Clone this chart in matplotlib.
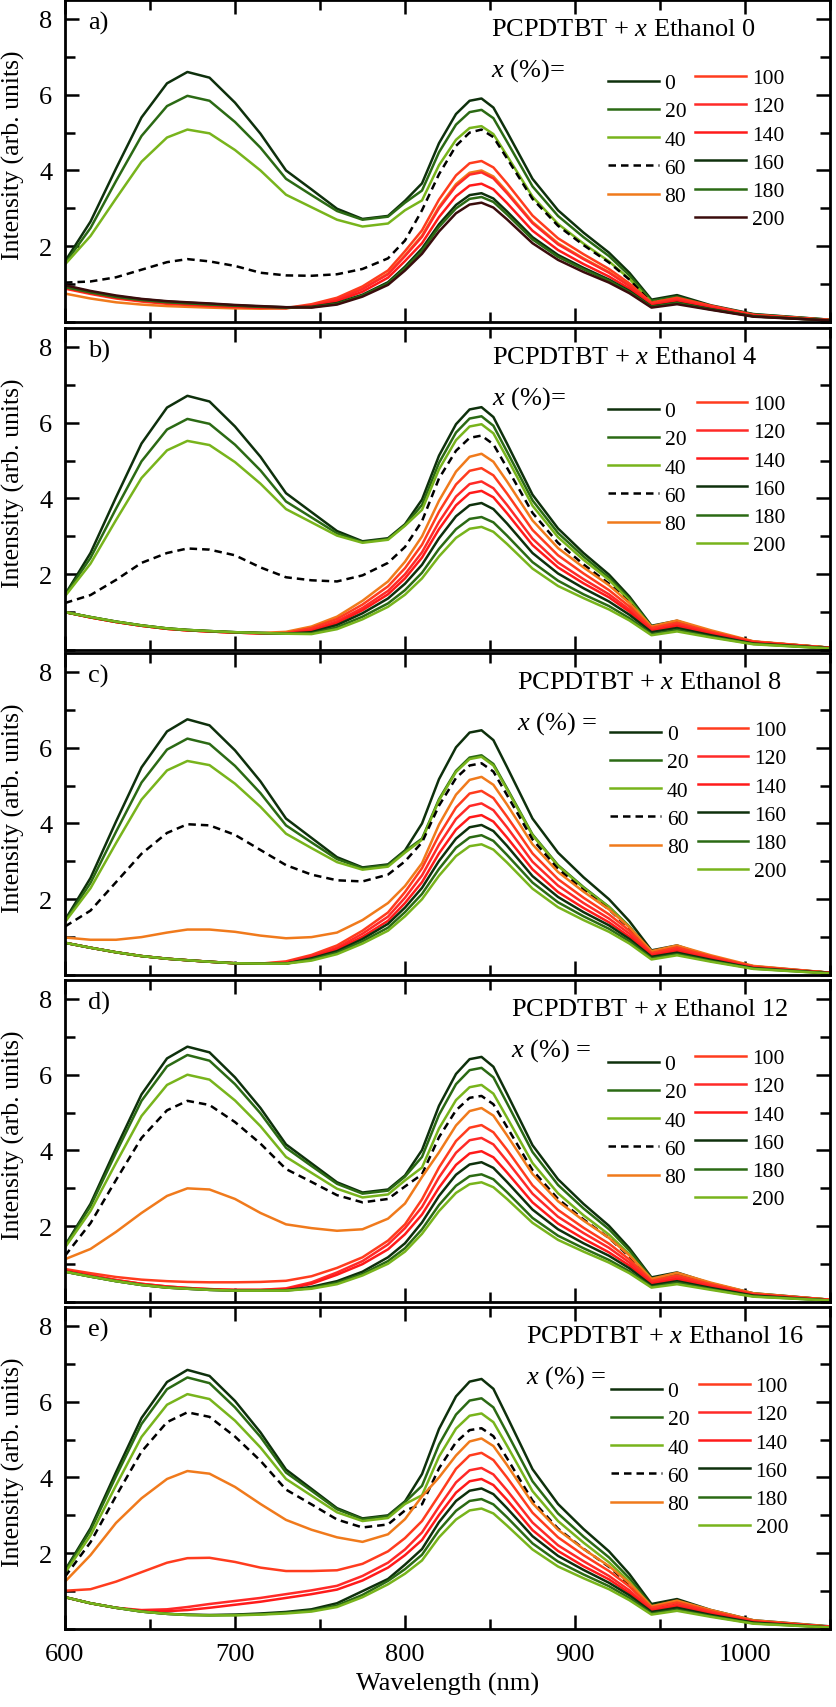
import matplotlib.pyplot as plt
from matplotlib.ticker import MultipleLocator

plt.rcParams['font.family'] = ['Liberation Serif', 'DejaVu Serif']
plt.rcParams['mathtext.fontset'] = 'custom'
plt.rcParams['mathtext.rm'] = 'Liberation Serif'
plt.rcParams['mathtext.it'] = 'Liberation Serif:italic'

wavelength = [600, 615, 630, 645, 660, 672, 685, 700, 715, 730, 745, 760, 775, 790, 800,
              810, 820, 830, 838, 845, 852, 860, 875, 890, 905, 920, 932, 945, 960, 980, 1005, 1050]
ethanol_pct = ['0', '20', '40', '60', '80', '100', '120', '140', '160', '180', '200']
panel_tags = ['a)', 'b)', 'c)', 'd)', 'e)']
ethanol_amount = ['0', '4', '8', '12', '16']

# panel a
a_0 = [1.6, 2.65, 4.05, 5.4, 6.3, 6.6, 6.45, 5.79, 4.97, 4.0, 3.5, 2.99, 2.72, 2.8, 3.2, 3.66, 4.72, 5.49, 5.84, 5.9, 5.66, 5.02, 3.78, 2.95, 2.36, 1.83, 1.3, 0.59, 0.71, 0.44, 0.21, 0.06]
a_20 = [1.55, 2.48, 3.72, 4.91, 5.7, 5.97, 5.84, 5.28, 4.6, 3.78, 3.35, 2.93, 2.7, 2.78, 3.15, 3.47, 4.48, 5.21, 5.54, 5.6, 5.38, 4.76, 3.58, 2.8, 2.24, 1.74, 1.23, 0.56, 0.67, 0.42, 0.2, 0.06]
a_40 = [1.52, 2.27, 3.26, 4.23, 4.87, 5.08, 4.98, 4.54, 4.0, 3.36, 3.03, 2.7, 2.52, 2.6, 2.95, 3.21, 4.14, 4.81, 5.12, 5.17, 4.96, 4.39, 3.31, 2.59, 2.07, 1.6, 1.14, 0.52, 0.62, 0.39, 0.18, 0.05]
a_60 = [1.04, 1.07, 1.18, 1.38, 1.58, 1.66, 1.6, 1.48, 1.3, 1.23, 1.22, 1.26, 1.4, 1.68, 2.15, 2.95, 3.9, 4.65, 5.0, 5.08, 4.88, 4.32, 3.25, 2.54, 2.03, 1.57, 1.12, 0.51, 0.61, 0.38, 0.18, 0.05]
a_80 = [0.75, 0.62, 0.52, 0.46, 0.42, 0.4, 0.38, 0.36, 0.35, 0.36, 0.44, 0.6, 0.88, 1.28, 1.76, 2.28, 3.04, 3.64, 3.94, 4.0, 3.84, 3.44, 2.64, 2.08, 1.68, 1.32, 0.96, 0.48, 0.6, 0.4, 0.18, 0.05]
a_100 = [0.88, 0.74, 0.62, 0.54, 0.48, 0.45, 0.42, 0.39, 0.37, 0.37, 0.47, 0.64, 0.94, 1.36, 1.87, 2.42, 3.23, 3.87, 4.19, 4.25, 4.08, 3.66, 2.81, 2.21, 1.79, 1.4, 1.02, 0.51, 0.64, 0.43, 0.19, 0.05]
a_120 = [0.9, 0.76, 0.64, 0.56, 0.5, 0.47, 0.44, 0.41, 0.38, 0.37, 0.43, 0.59, 0.87, 1.26, 1.74, 2.25, 3.0, 3.59, 3.89, 3.95, 3.79, 3.4, 2.61, 2.05, 1.66, 1.3, 0.95, 0.47, 0.59, 0.4, 0.18, 0.05]
a_140 = [0.9, 0.76, 0.64, 0.56, 0.5, 0.47, 0.44, 0.41, 0.38, 0.37, 0.41, 0.55, 0.8, 1.17, 1.61, 2.08, 2.77, 3.32, 3.6, 3.65, 3.5, 3.14, 2.41, 1.9, 1.53, 1.2, 0.88, 0.44, 0.55, 0.37, 0.16, 0.04]
a_160 = [0.95, 0.8, 0.68, 0.6, 0.54, 0.51, 0.48, 0.44, 0.41, 0.39, 0.4, 0.5, 0.72, 1.05, 1.46, 1.94, 2.58, 3.09, 3.35, 3.4, 3.26, 2.92, 2.24, 1.77, 1.43, 1.12, 0.82, 0.41, 0.51, 0.34, 0.15, 0.04]
a_180 = [0.92, 0.78, 0.66, 0.58, 0.52, 0.49, 0.46, 0.43, 0.4, 0.38, 0.39, 0.48, 0.7, 1.02, 1.42, 1.88, 2.51, 3.0, 3.25, 3.3, 3.17, 2.84, 2.18, 1.72, 1.39, 1.09, 0.79, 0.4, 0.5, 0.33, 0.15, 0.04]
a_200 = [0.97, 0.82, 0.7, 0.61, 0.55, 0.52, 0.49, 0.45, 0.42, 0.39, 0.38, 0.46, 0.67, 0.98, 1.36, 1.8, 2.39, 2.87, 3.1, 3.15, 3.02, 2.71, 2.08, 1.64, 1.32, 1.04, 0.76, 0.38, 0.47, 0.32, 0.14, 0.04]

# panel b
b_0 = [1.46, 2.56, 4.03, 5.45, 6.4, 6.71, 6.56, 5.9, 5.1, 4.14, 3.64, 3.14, 2.87, 2.95, 3.32, 3.97, 5.13, 5.96, 6.35, 6.41, 6.15, 5.45, 4.1, 3.21, 2.56, 1.99, 1.41, 0.64, 0.77, 0.48, 0.22, 0.06]
b_20 = [1.45, 2.43, 3.73, 4.98, 5.82, 6.1, 5.97, 5.42, 4.74, 3.92, 3.5, 3.08, 2.85, 2.93, 3.3, 3.83, 4.94, 5.74, 6.11, 6.17, 5.92, 5.24, 3.95, 3.09, 2.47, 1.91, 1.36, 0.62, 0.74, 0.46, 0.22, 0.06]
b_40 = [1.42, 2.28, 3.43, 4.54, 5.27, 5.52, 5.41, 4.96, 4.39, 3.72, 3.37, 3.02, 2.83, 2.91, 3.28, 3.7, 4.77, 5.54, 5.9, 5.96, 5.72, 5.07, 3.81, 2.98, 2.38, 1.85, 1.31, 0.6, 0.72, 0.45, 0.21, 0.06]
b_60 = [1.24, 1.45, 1.85, 2.3, 2.56, 2.68, 2.65, 2.5, 2.18, 1.92, 1.84, 1.81, 1.97, 2.3, 2.72, 3.4, 4.53, 5.26, 5.6, 5.66, 5.43, 4.81, 3.62, 2.83, 2.26, 1.75, 1.25, 0.57, 0.68, 0.42, 0.2, 0.06]
b_80 = [1.0, 0.86, 0.74, 0.64, 0.56, 0.52, 0.49, 0.46, 0.45, 0.48, 0.62, 0.88, 1.3, 1.81, 2.33, 3.0, 3.94, 4.71, 5.1, 5.18, 4.97, 4.45, 3.42, 2.69, 2.18, 1.71, 1.24, 0.62, 0.78, 0.52, 0.23, 0.06]
b_100 = [1.0, 0.86, 0.74, 0.64, 0.56, 0.52, 0.49, 0.46, 0.44, 0.45, 0.58, 0.82, 1.2, 1.68, 2.16, 2.78, 3.65, 4.37, 4.73, 4.8, 4.61, 4.13, 3.17, 2.5, 2.02, 1.58, 1.15, 0.58, 0.72, 0.48, 0.22, 0.06]
b_120 = [1.0, 0.86, 0.74, 0.64, 0.56, 0.52, 0.49, 0.46, 0.44, 0.43, 0.53, 0.76, 1.11, 1.56, 2.0, 2.58, 3.38, 4.05, 4.38, 4.45, 4.27, 3.83, 2.94, 2.31, 1.87, 1.47, 1.07, 0.53, 0.67, 0.45, 0.2, 0.05]
b_140 = [1.0, 0.86, 0.74, 0.64, 0.56, 0.52, 0.49, 0.46, 0.44, 0.43, 0.5, 0.71, 1.05, 1.47, 1.89, 2.44, 3.19, 3.82, 4.14, 4.2, 4.03, 3.61, 2.77, 2.18, 1.76, 1.39, 1.01, 0.5, 0.63, 0.42, 0.19, 0.05]
b_160 = [1.0, 0.87, 0.75, 0.65, 0.57, 0.53, 0.5, 0.47, 0.45, 0.43, 0.47, 0.66, 0.97, 1.36, 1.75, 2.25, 2.95, 3.53, 3.82, 3.88, 3.72, 3.34, 2.56, 2.02, 1.63, 1.28, 0.93, 0.47, 0.58, 0.39, 0.17, 0.05]
b_180 = [1.0, 0.87, 0.75, 0.65, 0.57, 0.53, 0.5, 0.47, 0.45, 0.43, 0.44, 0.6, 0.88, 1.23, 1.58, 2.04, 2.67, 3.19, 3.46, 3.51, 3.37, 3.02, 2.32, 1.83, 1.47, 1.16, 0.84, 0.42, 0.53, 0.35, 0.16, 0.04]
b_200 = [1.0, 0.87, 0.75, 0.65, 0.57, 0.53, 0.5, 0.47, 0.45, 0.43, 0.42, 0.55, 0.81, 1.14, 1.46, 1.89, 2.47, 2.96, 3.2, 3.25, 3.12, 2.8, 2.15, 1.69, 1.37, 1.07, 0.78, 0.39, 0.49, 0.33, 0.15, 0.04]

# panel c
c_0 = [1.45, 2.56, 4.05, 5.48, 6.43, 6.75, 6.59, 5.93, 5.11, 4.13, 3.62, 3.11, 2.84, 2.92, 3.29, 4.0, 5.17, 6.01, 6.4, 6.46, 6.2, 5.49, 4.13, 3.23, 2.58, 2.0, 1.42, 0.65, 0.78, 0.48, 0.23, 0.06]
c_20 = [1.42, 2.43, 3.78, 5.08, 5.95, 6.24, 6.1, 5.52, 4.8, 3.95, 3.5, 3.06, 2.82, 2.9, 3.27, 3.6, 4.64, 5.39, 5.74, 5.8, 5.57, 4.93, 3.71, 2.9, 2.32, 1.8, 1.28, 0.58, 0.7, 0.44, 0.2, 0.06]
c_40 = [1.4, 2.29, 3.48, 4.63, 5.4, 5.65, 5.54, 5.05, 4.44, 3.73, 3.35, 2.98, 2.78, 2.86, 3.23, 3.57, 4.61, 5.36, 5.7, 5.76, 5.53, 4.9, 3.69, 2.88, 2.3, 1.79, 1.27, 0.58, 0.69, 0.43, 0.2, 0.06]
c_60 = [1.28, 1.7, 2.45, 3.2, 3.75, 3.98, 3.95, 3.7, 3.3, 2.9, 2.65, 2.5, 2.47, 2.65, 3.0, 3.5, 4.47, 5.2, 5.53, 5.59, 5.37, 4.75, 3.58, 2.8, 2.24, 1.73, 1.23, 0.56, 0.67, 0.42, 0.2, 0.06]
c_80 = [0.99, 0.93, 0.93, 1.0, 1.12, 1.2, 1.2, 1.14, 1.04, 0.97, 1.0, 1.12, 1.45, 1.9, 2.35, 2.95, 3.97, 4.76, 5.15, 5.23, 5.02, 4.5, 3.45, 2.72, 2.2, 1.73, 1.26, 0.63, 0.78, 0.52, 0.24, 0.06]
c_100 = [0.85, 0.72, 0.6, 0.5, 0.43, 0.39, 0.35, 0.31, 0.3, 0.36, 0.53, 0.78, 1.17, 1.65, 2.19, 2.82, 3.69, 4.42, 4.79, 4.86, 4.67, 4.18, 3.21, 2.53, 2.04, 1.6, 1.17, 0.58, 0.73, 0.49, 0.22, 0.06]
c_120 = [0.85, 0.72, 0.6, 0.5, 0.43, 0.39, 0.35, 0.31, 0.3, 0.33, 0.5, 0.72, 1.09, 1.54, 2.04, 2.63, 3.44, 4.12, 4.46, 4.53, 4.35, 3.9, 2.99, 2.36, 1.9, 1.49, 1.09, 0.54, 0.68, 0.45, 0.2, 0.05]
c_140 = [0.85, 0.72, 0.6, 0.5, 0.43, 0.39, 0.35, 0.31, 0.3, 0.31, 0.46, 0.68, 1.01, 1.43, 1.9, 2.45, 3.21, 3.84, 4.16, 4.22, 4.05, 3.63, 2.79, 2.19, 1.77, 1.39, 1.01, 0.51, 0.63, 0.42, 0.19, 0.05]
c_160 = [0.85, 0.72, 0.6, 0.5, 0.43, 0.39, 0.35, 0.31, 0.3, 0.3, 0.44, 0.63, 0.95, 1.35, 1.78, 2.3, 3.01, 3.6, 3.9, 3.96, 3.8, 3.41, 2.61, 2.06, 1.66, 1.31, 0.95, 0.48, 0.59, 0.4, 0.18, 0.05]
c_180 = [0.85, 0.72, 0.6, 0.5, 0.43, 0.39, 0.35, 0.31, 0.3, 0.3, 0.41, 0.59, 0.89, 1.25, 1.66, 2.14, 2.8, 3.36, 3.63, 3.69, 3.54, 3.17, 2.44, 1.92, 1.55, 1.22, 0.89, 0.44, 0.55, 0.37, 0.17, 0.04]
c_200 = [0.85, 0.72, 0.6, 0.5, 0.43, 0.39, 0.35, 0.31, 0.3, 0.3, 0.38, 0.55, 0.83, 1.17, 1.55, 2.0, 2.62, 3.14, 3.4, 3.45, 3.31, 2.97, 2.28, 1.79, 1.45, 1.14, 0.83, 0.41, 0.52, 0.35, 0.16, 0.04]

# panel d
d_0 = [1.49, 2.59, 4.06, 5.48, 6.43, 6.74, 6.59, 5.93, 5.12, 4.16, 3.66, 3.16, 2.89, 2.97, 3.34, 4.01, 5.18, 6.02, 6.41, 6.47, 6.21, 5.5, 4.14, 3.24, 2.59, 2.01, 1.42, 0.65, 0.78, 0.49, 0.23, 0.06]
d_20 = [1.47, 2.53, 3.94, 5.31, 6.22, 6.52, 6.37, 5.75, 4.98, 4.07, 3.59, 3.12, 2.86, 2.94, 3.31, 3.83, 4.94, 5.75, 6.12, 6.18, 5.93, 5.25, 3.96, 3.09, 2.47, 1.92, 1.36, 0.62, 0.74, 0.46, 0.22, 0.06]
d_40 = [1.44, 2.4, 3.67, 4.91, 5.73, 6.0, 5.87, 5.32, 4.64, 3.83, 3.41, 2.99, 2.76, 2.84, 3.21, 3.55, 4.58, 5.33, 5.67, 5.73, 5.5, 4.87, 3.67, 2.87, 2.29, 1.78, 1.26, 0.57, 0.69, 0.43, 0.2, 0.06]
d_60 = [1.22, 2.08, 3.22, 4.33, 5.06, 5.31, 5.2, 4.75, 4.18, 3.51, 3.17, 2.82, 2.63, 2.72, 3.05, 3.37, 4.35, 5.06, 5.39, 5.44, 5.22, 4.62, 3.48, 2.72, 2.18, 1.69, 1.2, 0.54, 0.65, 0.41, 0.19, 0.05]
d_80 = [1.13, 1.4, 1.85, 2.35, 2.8, 3.0, 2.97, 2.72, 2.35, 2.05, 1.95, 1.88, 1.92, 2.2, 2.6, 3.3, 3.95, 4.66, 5.04, 5.12, 4.92, 4.4, 3.38, 2.66, 2.15, 1.69, 1.23, 0.61, 0.77, 0.51, 0.23, 0.06]
d_100 = [0.87, 0.76, 0.66, 0.59, 0.55, 0.53, 0.52, 0.52, 0.53, 0.56, 0.68, 0.9, 1.18, 1.62, 2.05, 2.71, 3.55, 4.25, 4.6, 4.67, 4.48, 4.02, 3.08, 2.43, 1.96, 1.54, 1.12, 0.56, 0.7, 0.47, 0.21, 0.06]
d_120 = [0.83, 0.7, 0.58, 0.48, 0.41, 0.37, 0.34, 0.32, 0.32, 0.36, 0.52, 0.78, 1.08, 1.52, 1.95, 2.51, 3.29, 3.94, 4.27, 4.33, 4.16, 3.72, 2.86, 2.25, 1.82, 1.43, 1.04, 0.52, 0.65, 0.43, 0.19, 0.05]
d_140 = [0.83, 0.7, 0.58, 0.48, 0.41, 0.37, 0.34, 0.32, 0.32, 0.34, 0.48, 0.72, 1.0, 1.39, 1.79, 2.31, 3.02, 3.62, 3.92, 3.98, 3.82, 3.42, 2.63, 2.07, 1.67, 1.31, 0.96, 0.48, 0.6, 0.4, 0.18, 0.05]
d_160 = [0.8, 0.67, 0.55, 0.45, 0.38, 0.35, 0.32, 0.3, 0.3, 0.31, 0.4, 0.55, 0.8, 1.18, 1.55, 2.1, 2.8, 3.36, 3.63, 3.69, 3.54, 3.17, 2.44, 1.92, 1.55, 1.22, 0.89, 0.44, 0.55, 0.37, 0.17, 0.04]
d_180 = [0.8, 0.67, 0.55, 0.45, 0.38, 0.35, 0.32, 0.3, 0.3, 0.3, 0.37, 0.51, 0.74, 1.08, 1.42, 1.92, 2.56, 3.07, 3.32, 3.37, 3.24, 2.9, 2.22, 1.75, 1.42, 1.11, 0.81, 0.4, 0.51, 0.34, 0.15, 0.04]
d_200 = [0.8, 0.67, 0.55, 0.45, 0.38, 0.35, 0.32, 0.3, 0.3, 0.3, 0.35, 0.47, 0.7, 1.01, 1.33, 1.8, 2.4, 2.88, 3.11, 3.16, 3.03, 2.72, 2.09, 1.64, 1.33, 1.04, 0.76, 0.38, 0.47, 0.32, 0.14, 0.04]

# panel e
e_0 = [1.55, 2.66, 4.14, 5.57, 6.52, 6.84, 6.68, 6.02, 5.19, 4.21, 3.7, 3.19, 2.92, 3.0, 3.37, 4.09, 5.28, 6.14, 6.53, 6.6, 6.34, 5.61, 4.22, 3.3, 2.64, 2.05, 1.45, 0.66, 0.79, 0.5, 0.23, 0.07]
e_20 = [1.52, 2.6, 4.03, 5.41, 6.33, 6.64, 6.49, 5.85, 5.07, 4.13, 3.65, 3.16, 2.9, 2.98, 3.35, 3.78, 4.87, 5.66, 6.03, 6.09, 5.85, 5.18, 3.9, 3.05, 2.44, 1.89, 1.34, 0.61, 0.73, 0.46, 0.21, 0.06]
e_40 = [1.48, 2.47, 3.79, 5.07, 5.92, 6.2, 6.07, 5.5, 4.79, 3.96, 3.52, 3.08, 2.85, 2.93, 3.3, 3.53, 4.55, 5.29, 5.63, 5.69, 5.46, 4.84, 3.64, 2.85, 2.28, 1.76, 1.25, 0.57, 0.68, 0.43, 0.2, 0.06]
e_60 = [1.38, 2.29, 3.51, 4.68, 5.46, 5.72, 5.6, 5.08, 4.44, 3.68, 3.29, 2.89, 2.68, 2.76, 3.13, 3.29, 4.24, 4.93, 5.25, 5.3, 5.09, 4.51, 3.39, 2.65, 2.12, 1.64, 1.17, 0.53, 0.64, 0.4, 0.19, 0.05]
e_80 = [1.25, 1.95, 2.8, 3.45, 3.96, 4.17, 4.1, 3.75, 3.3, 2.88, 2.62, 2.42, 2.3, 2.5, 2.9, 3.5, 4.0, 4.58, 4.95, 5.03, 4.83, 4.33, 3.32, 2.62, 2.11, 1.66, 1.21, 0.6, 0.75, 0.5, 0.23, 0.06]
e_100 = [1.01, 1.05, 1.25, 1.5, 1.75, 1.87, 1.88, 1.77, 1.62, 1.53, 1.53, 1.55, 1.72, 2.05, 2.4, 2.85, 3.53, 4.23, 4.58, 4.65, 4.46, 4.0, 3.07, 2.42, 1.95, 1.53, 1.12, 0.56, 0.7, 0.47, 0.21, 0.06]
e_120 = [0.84, 0.68, 0.56, 0.5, 0.52, 0.58, 0.66, 0.74, 0.82, 0.92, 1.02, 1.14, 1.4, 1.75, 2.1, 2.55, 3.23, 3.87, 4.19, 4.25, 4.08, 3.66, 2.81, 2.21, 1.79, 1.4, 1.02, 0.51, 0.64, 0.43, 0.19, 0.05]
e_140 = [0.84, 0.68, 0.56, 0.48, 0.47, 0.5, 0.56, 0.64, 0.72, 0.82, 0.92, 1.04, 1.28, 1.62, 1.95, 2.35, 3.01, 3.6, 3.9, 3.96, 3.8, 3.41, 2.61, 2.06, 1.66, 1.31, 0.95, 0.48, 0.59, 0.4, 0.18, 0.05]
e_160 = [0.84, 0.68, 0.56, 0.46, 0.4, 0.38, 0.37, 0.38, 0.41, 0.45, 0.52, 0.68, 1.0, 1.32, 1.7, 2.11, 2.82, 3.38, 3.65, 3.71, 3.56, 3.19, 2.45, 1.93, 1.56, 1.22, 0.89, 0.45, 0.56, 0.37, 0.17, 0.04]
e_180 = [0.84, 0.68, 0.56, 0.46, 0.4, 0.37, 0.36, 0.37, 0.39, 0.43, 0.49, 0.62, 0.9, 1.27, 1.58, 1.96, 2.61, 3.12, 3.38, 3.43, 3.29, 2.95, 2.26, 1.78, 1.44, 1.13, 0.82, 0.41, 0.51, 0.34, 0.15, 0.04]
e_200 = [0.84, 0.68, 0.56, 0.46, 0.4, 0.37, 0.36, 0.36, 0.38, 0.41, 0.46, 0.58, 0.84, 1.18, 1.46, 1.81, 2.42, 2.89, 3.13, 3.18, 3.05, 2.73, 2.1, 1.65, 1.34, 1.05, 0.76, 0.38, 0.48, 0.32, 0.14, 0.04]

panels = [
    [a_0, a_20, a_40, a_60, a_80, a_100, a_120, a_140, a_160, a_180, a_200],
    [b_0, b_20, b_40, b_60, b_80, b_100, b_120, b_140, b_160, b_180, b_200],
    [c_0, c_20, c_40, c_60, c_80, c_100, c_120, c_140, c_160, c_180, c_200],
    [d_0, d_20, d_40, d_60, d_80, d_100, d_120, d_140, d_160, d_180, d_200],
    [e_0, e_20, e_40, e_60, e_80, e_100, e_120, e_140, e_160, e_180, e_200],
]

dk = "#0e300c"
mg = "#2b6a14"
lg = "#78b41c"
orng = "#f07a1c"
colors = [dk, mg, lg, "black", orng, "#ff3c1e", "#ff2a28", "#ff1a1a", dk, mg, lg]
colors_a = colors[:10] + ["#3a0c0c"]

eq_labels = ["$x$ (%)=", "$x$ (%)=", "$x$ (%) =", "$x$ (%) =", "$x$ (%) ="]
title_x = [0.557, 0.558, 0.591, 0.583, 0.603]
leg1_x = [0.71, 0.71, 0.713, 0.71, 0.714]
leg2_x = [0.824, 0.826, 0.827, 0.824, 0.829]
leg1_top = [80, 80, 78, 81, 81]
leg2_top = [75, 73, 74, 75, 76]

fig = plt.figure(figsize=(8.36, 17.08), dpi=100)
H = 322 / 1708
bottoms = [1385, 1057, 732, 405, 78]

for i, curves in enumerate(panels):
    ax = fig.add_axes([65 / 836, bottoms[i] / 1708, 765 / 836, H])
    cols = colors_a if i == 0 else colors
    lines = []
    for k, y in enumerate(curves):
        if k == 3:
            ln, = ax.plot(wavelength, y, color=cols[k], lw=1.8, dashes=(3, 2))
        else:
            ln, = ax.plot(wavelength, y, color=cols[k], lw=1.8)
        lines.append(ln)

    ax.set_xlim(600, 1050)
    ax.set_ylim(0, 8.5)
    ax.xaxis.set_major_locator(MultipleLocator(100))
    ax.xaxis.set_minor_locator(MultipleLocator(50))
    ax.yaxis.set_major_locator(MultipleLocator(2))
    ax.yaxis.set_minor_locator(MultipleLocator(1))
    ax.set_yticks([2, 4, 6, 8])
    ax.tick_params(which='both', direction='in', top=True, right=True, width=1.8, labelsize=19)
    ax.tick_params(which='major', length=10)
    ax.tick_params(which='minor', length=7)
    ax.tick_params(axis='y', pad=9)
    ax.tick_params(axis='x', pad=10)
    for s in ax.spines.values():
        s.set_linewidth(2)
    if i < 4:
        ax.tick_params(axis='x', labelbottom=False)
    else:
        ax.set_xlabel("Wavelength (nm)", fontsize=19, labelpad=5)

    ax.set_ylabel("Intensity (arb. units)", fontsize=18.5)
    ax.yaxis.set_label_coords(-0.052, 0.52)

    ax.text(0.03, 0.93, panel_tags[i], transform=ax.transAxes, fontsize=19, va='center')
    ax.text(title_x[i], 1 - 29 / 322, "PCPDTBT + $x$ Ethanol " + ethanol_amount[i],
            transform=ax.transAxes, fontsize=19, va='center')
    ax.text(title_x[i], 1 - 70 / 322, eq_labels[i], transform=ax.transAxes, fontsize=19, va='center')

    leg1 = ax.legend(lines[:5], ethanol_pct[:5], loc='upper left',
                     bbox_to_anchor=(leg1_x[i], 1 - (leg1_top[i] - 7) / 322),
                     frameon=False, fontsize=15.5, handlelength=2.35, handletextpad=0.27,
                     labelspacing=0.38, borderpad=0, borderaxespad=0)
    ax.add_artist(leg1)
    ax.legend(lines[5:], ethanol_pct[5:], loc='upper left',
              bbox_to_anchor=(leg2_x[i], 1 - (leg2_top[i] - 7) / 322),
              frameon=False, fontsize=15.5, handlelength=2.35, handletextpad=0.27,
              labelspacing=0.38, borderpad=0, borderaxespad=0)

fig.savefig("out.png", dpi=100)
